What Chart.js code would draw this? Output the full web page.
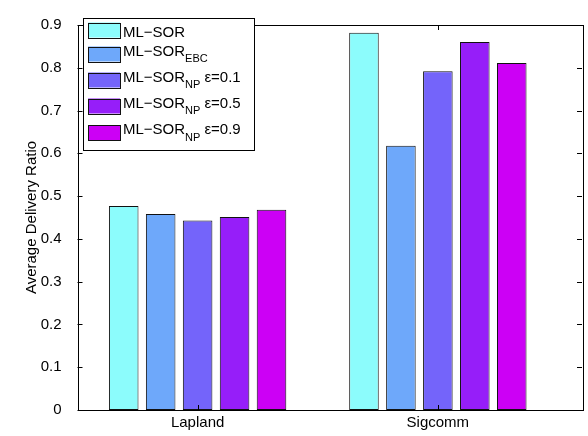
<!DOCTYPE html>
<html>
<head>
<meta charset="utf-8">
<script src="https://cdn.jsdelivr.net/npm/chart.js@4/dist/chart.umd.min.js"></script>
<style>
  html, body { margin: 0; padding: 0; background: #fff; }
  #wrap { width: 588px; height: 436px; }
</style>
</head>
<body>
<div id="wrap"><canvas id="barCanvas"></canvas></div>
<script>
const categories = ["Lapland", "Sigcomm"];
const seriesNames = ["ML−SOR", "ML−SOR_EBC", "ML−SOR_NP ε=0.1", "ML−SOR_NP ε=0.5", "ML−SOR_NP ε=0.9"];
const mlSor = [0.477, 0.882];
const mlSorEbc = [0.458, 0.618];
const mlSorNp01 = [0.443, 0.792];
const mlSorNp05 = [0.451, 0.860];
const mlSorNp09 = [0.468, 0.811];
const yTicks = [0, 0.1, 0.2, 0.3, 0.4, 0.5, 0.6, 0.7, 0.8, 0.9];

const colors = ["#8cfcfc", "#6ea8fa", "#7464fa", "#961ef9", "#cc00f5"];
const FONT = "'Liberation Sans', Arial, sans-serif";

// categories sit at x = 1, 2 on a linear axis (matlab-style limits)
const toPoints = vals => vals.map((v, i) => ({ x: i + 1, y: v }));

const allSeries = [mlSor, mlSorEbc, mlSorNp01, mlSorNp05, mlSorNp09];
const datasets = allSeries.map((vals, i) => ({
    label: seriesNames[i],
    data: toPoints(vals),
    backgroundColor: colors[i],
    borderColor: "#111",
    borderWidth: 1,
    borderSkipped: false,
    categoryPercentage: 0.769,
    barPercentage: 0.8
}));

// box around plot area with inward tick marks on all four sides
const boxPlugin = {
    id: "box",
    afterDatasetsDraw(chart) {
        const { ctx, chartArea: a, scales } = chart;
        ctx.save();
        ctx.strokeStyle = "#000";
        ctx.lineWidth = 1;
        ctx.strokeRect(Math.round(a.left) + 0.5, Math.round(a.top) + 0.5,
            Math.round(a.right - a.left), Math.round(a.bottom - a.top));
        ctx.beginPath();
        yTicks.forEach(t => {
            const y = Math.round(scales.y.getPixelForValue(t)) + 0.5;
            ctx.moveTo(a.left, y); ctx.lineTo(a.left + 5, y);
            ctx.moveTo(a.right, y); ctx.lineTo(a.right - 5, y);
        });
        categories.forEach((c, i) => {
            const x = Math.round(scales.x.getPixelForValue(i + 1)) + 0.5;
            ctx.moveTo(x, a.top); ctx.lineTo(x, a.top + 5);
            ctx.moveTo(x, a.bottom); ctx.lineTo(x, a.bottom - 5);
        });
        ctx.stroke();
        ctx.restore();
    },
    afterDraw(chart) {
        // legend with subscripts
        const { ctx } = chart;
        const bx = 83, by = 18, bw = 171, bh = 132;
        ctx.save();
        ctx.fillStyle = "#fff";
        ctx.fillRect(bx, by, bw, bh);
        ctx.strokeStyle = "#000";
        ctx.lineWidth = 1;
        ctx.strokeRect(bx + 0.5, by + 0.5, bw, bh);
        const centers = [30, 54, 80, 106, 132.5];
        seriesNames.forEach((name, i) => {
            const cy = centers[i];
            ctx.fillStyle = colors[i];
            ctx.fillRect(88, cy - 7.5, 32, 15);
            ctx.strokeStyle = "#111";
            ctx.strokeRect(88.5, Math.round(cy - 7.5) + 0.5, 32, 15);
            ctx.fillStyle = "#000";
            ctx.textBaseline = "alphabetic";
            const parts = name.split("_");
            let x = 123;
            ctx.font = "15px " + FONT;
            if (parts.length === 1) {
                ctx.fillText(parts[0], x, cy + 6.5);
                return;
            }
            const base = cy + 1.5;
            ctx.fillText(parts[0], x, base);
            x += ctx.measureText(parts[0]).width;
            const sub = parts[1].split(" ");
            ctx.font = "11px " + FONT;
            ctx.fillText(sub[0], x, base + 6.5);
            x += ctx.measureText(sub[0]).width;
            if (sub[1]) {
                ctx.font = "15px " + FONT;
                ctx.fillText(sub[1], x + 4, base);
            }
        });
        ctx.restore();
    }
};

new Chart(document.getElementById("barCanvas"), {
    type: "bar",
    data: { datasets: datasets },
    options: {
        responsive: true,
        maintainAspectRatio: false,
        animation: false,
        layout: { padding: { left: 0, right: 6, top: 12, bottom: 0 } },
        plugins: {
            legend: { display: false },
            tooltip: { enabled: false }
        },
        scales: {
            x: {
                type: "linear",
                min: 0.5,
                max: 2.6,
                offset: false,
                grid: { display: false, drawTicks: false, offset: false },
                border: { display: false },
                afterBuildTicks: scale => {
                    scale.ticks = categories.map((c, i) => ({ value: i + 1 }));
                },
                afterFit: scale => { scale.height = 26; },
                ticks: {
                    color: "#000",
                    padding: 4,
                    maxRotation: 0,
                    font: { family: FONT, size: 15 },
                    callback: v => categories[Math.round(v) - 1]
                }
            },
            y: {
                min: 0,
                max: 0.9,
                grid: { display: false, drawTicks: false },
                border: { display: false },
                afterBuildTicks: scale => {
                    scale.ticks = yTicks.map(v => ({ value: v }));
                },
                afterFit: scale => { scale.width = 77.5; },
                ticks: {
                    color: "#000",
                    padding: 16,
                    font: { family: FONT, size: 15 },
                    callback: v => String(Number(v.toFixed(1)))
                },
                title: {
                    display: true,
                    text: "Average Delivery Ratio",
                    color: "#000",
                    padding: { top: 23, bottom: 0 },
                    font: { family: FONT, size: 15 }
                }
            }
        }
    },
    plugins: [boxPlugin]
});
</script>
</body>
</html>
